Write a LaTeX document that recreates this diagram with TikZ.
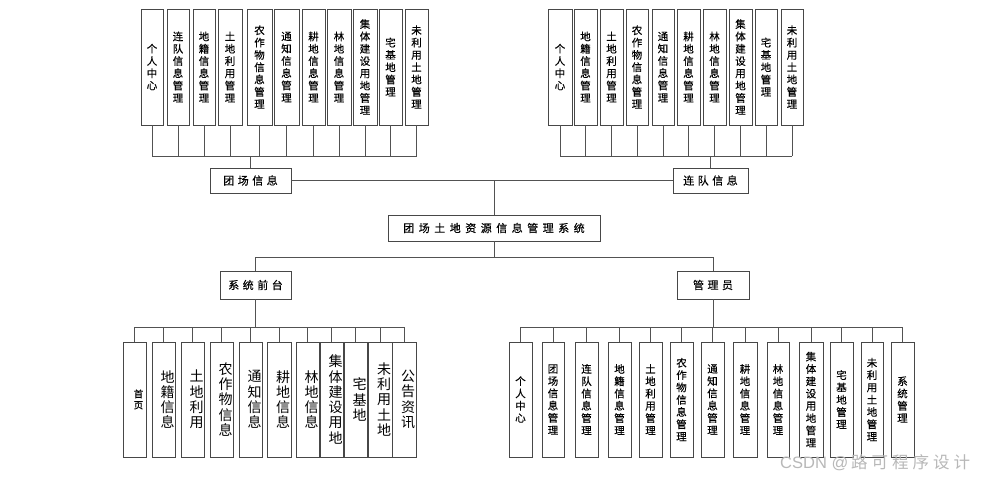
\documentclass[tikz,border=0pt]{standalone}
\usepackage{fontspec}
\setmainfont{Noto Sans CJK SC}[FakeBold=0.35]
\newfontfamily\wmcjk{Noto Sans CJK SC}
\newfontfamily\wmfont{Liberation Sans}
\usetikzlibrary{shadows}
\def\vsEnd{\vsEnd}
\def\joinchars#1#2{\jcA{#1}#2\vsEnd}
\def\jcA#1#2#3{#2\ifx\vsEnd#3\expandafter\jcGobble\else\expandafter\jcB\fi{#1}{#3}}
\def\jcB#1#2{#1\jcA{#1}#2}
\def\jcGobble#1#2{}
\newcommand\vs[1]{\joinchars{\\}{#1}}
\newcommand\vsr[1]{\hspace*{8pt}\joinchars{\\\hspace*{8pt}}{#1}}
\newcommand\hsp[2]{\joinchars{\hspace{#1}}{#2}}
\newcommand\bx[7][vbox]{\node[#1,minimum width={(#4-#3)*1pt},minimum height={(#6-#5)*1pt}] (#2) at ({(#3+#4)/2},{(#5+#6)/2}) {#7};}
\tikzset{
  box/.style={draw=black!72, line width=0.9pt, fill=white, inner sep=0pt,
    drop shadow={shadow xshift=1.2pt, shadow yshift=-1.2pt, fill=black!14, opacity=1}},
  vbox/.style={box, align=center, font=\fontsize{10.5}{12.3}\selectfont},
  bigv/.style={box, align=center, font=\wmcjk\fontsize{14}{15.3}\selectfont},
  smallv/.style={box, align=center, font=\fontsize{9.5}{11}\selectfont},
  hbox/.style={box, font=\fontsize{11}{13}\selectfont},
  conn/.style={draw=black!68, line width=0.8pt},
}
\begin{document}
\begin{tikzpicture}[x=1pt,y=-1pt]
\fill[white] (0,0) rectangle (986,482);
\useasboundingbox (0,0) rectangle (986,482);
% top-left group
\bx{t1}{141}{163}{9}{125}{\vs{个人中心}}
\bx{t2}{167}{189}{9}{125}{\vs{连队信息管理}}
\bx{t3}{193}{215}{9}{125}{\vs{地籍信息管理}}
\bx{t4}{218}{242}{9}{125}{\vs{土地利用管理}}
\bx{t5}{247}{272}{9}{125}{\vs{农作物信息管理}}
\bx{t6}{274}{299}{9}{125}{\vs{通知信息管理}}
\bx{t7}{302}{325}{9}{125}{\vs{耕地信息管理}}
\bx{t8}{327}{351}{9}{125}{\vs{林地信息管理}}
\bx{t9}{353}{377}{9}{125}{\vs{集体建设用地管理}}
\bx{t10}{379}{402}{9}{125}{\vs{宅基地管理}}
\bx{t11}{405}{428}{9}{125}{\vs{未利用土地管理}}
% top-right group
\bx{r1}{548}{572}{9}{125}{\vs{个人中心}}
\bx{r2}{574}{597}{9}{125}{\vs{地籍信息管理}}
\bx{r3}{600}{623}{9}{125}{\vs{土地利用管理}}
\bx{r4}{626}{648}{9}{125}{\vs{农作物信息管理}}
\bx{r5}{652}{674}{9}{125}{\vs{通知信息管理}}
\bx{r6}{677}{700}{9}{125}{\vs{耕地信息管理}}
\bx{r7}{703}{726}{9}{125}{\vs{林地信息管理}}
\bx{r8}{729}{752}{9}{125}{\vs{集体建设用地管理}}
\bx{r9}{755}{777}{9}{125}{\vs{宅基地管理}}
\bx{r10}{781}{803}{9}{125}{\vs{未利用土地管理}}
% middle
\bx[hbox]{tc}{210}{291}{168}{193}{\hsp{3.5pt}{团场信息}}
\bx[hbox]{rc}{673}{748}{168}{193}{\hsp{3.5pt}{连队信息}}
\bx[hbox]{sys}{388}{600}{215}{241}{\hsp{4.5pt}{团场土地资源信息管理系统}}
\bx[hbox]{qt}{220}{291}{271}{299}{\hsp{3.5pt}{系统前台}}
\bx[hbox]{gl}{677}{749}{271}{299}{\hsp{3.5pt}{管理员}}
% bottom-left group
\bx[smallv]{b1}{123}{146}{342}{457}{\vsr{首页}}
\bx[bigv]{b2}{152}{175}{342}{457}{\vsr{地籍信息}}
\bx[bigv]{b3}{181}{204}{342}{457}{\vsr{土地利用}}
\bx[bigv]{b4}{210}{233}{342}{457}{\vsr{农作物信息}}
\bx[bigv]{b5}{239}{262}{342}{457}{\vsr{通知信息}}
\bx[bigv]{b6}{267}{291}{342}{457}{\vsr{耕地信息}}
\bx[bigv]{b7}{296}{319}{342}{457}{\vsr{林地信息}}
\bx[bigv]{b8}{320}{343}{342}{457}{\vsr{集体建设用地}}
\bx[bigv]{b9}{344}{367}{342}{457}{\vsr{宅基地}}
\bx[bigv]{b10}{368}{392}{342}{457}{\vsr{未利用土地}}
\bx[bigv]{b11}{392}{416}{342}{457}{\vsr{公告资讯}}
% bottom-right group
\bx{c1}{509}{532}{342}{457}{\vs{个人中心}}
\bx{c2}{542}{564}{342}{457}{\vs{团场信息管理}}
\bx{c3}{575}{598}{342}{457}{\vs{连队信息管理}}
\bx{c4}{608}{631}{342}{457}{\vs{地籍信息管理}}
\bx{c5}{639}{662}{342}{457}{\vs{土地利用管理}}
\bx{c6}{670}{693}{342}{457}{\vs{农作物信息管理}}
\bx{c7}{701}{724}{342}{457}{\vs{通知信息管理}}
\bx{c8}{733}{757}{342}{457}{\vs{耕地信息管理}}
\bx{c9}{767}{789}{342}{457}{\vs{林地信息管理}}
\bx{c10}{799}{823}{342}{457}{\vs{集体建设用地管理}}
\bx{c11}{830}{853}{342}{457}{\vs{宅基地管理}}
\bx{c12}{861}{883}{342}{457}{\vs{未利用土地管理}}
\bx{c13}{891}{914}{342}{457}{\vs{系统管理}}
% connectors: top-left
\coordinate (tlbus) at (250.5,156);
\foreach \i in {1,...,11} {\draw[conn] (t\i.south) -- (t\i.south |- tlbus);}
\draw[conn] (t1.south |- tlbus) -- (t11.south |- tlbus);
\draw[conn] (tc.north |- tlbus) -- (tc.north);
% connectors: top-right
\coordinate (trbus) at (710,156);
\foreach \i in {1,...,10} {\draw[conn] (r\i.south) -- (r\i.south |- trbus);}
\draw[conn] (r1.south |- trbus) -- (r10.south |- trbus);
\draw[conn] (rc.north |- trbus) -- (rc.north);
% middle connectors
\draw[conn] (tc.east) -- (rc.west);
\coordinate (mtop) at (tc.east -| sys.north);
\draw[conn] (mtop) -- (sys.north);
\coordinate (mbus) at (494,257);
\draw[conn] (sys.south) -- (mbus);
\draw[conn] (qt.north |- mbus) -- (gl.north |- mbus);
\draw[conn] (qt.north |- mbus) -- (qt.north);
\draw[conn] (gl.north |- mbus) -- (gl.north);
% bottom-left connectors
\coordinate (blbus) at (255.5,327);
\draw[conn] (qt.south) -- (qt.south |- blbus);
\draw[conn] (b1.north |- blbus) -- (b11.north |- blbus);
\foreach \i in {1,...,11} {\draw[conn] (b\i.north |- blbus) -- (b\i.north);}
% bottom-right connectors
\coordinate (brbus) at (713,327);
\draw[conn] (gl.south) -- (gl.south |- brbus);
\draw[conn] (c1.north |- brbus) -- (c13.north |- brbus);
\foreach \i in {1,...,13} {\draw[conn] (c\i.north |- brbus) -- (c\i.north);}
% watermark
\node[text=black!28, inner sep=0pt, anchor=west, font=\fontsize{16.5}{18}\selectfont] (wm) at (780,463) {{\wmfont CSDN @}\,{\wmcjk\hsp{4pt}{路可程序设计}}};
\end{tikzpicture}
\end{document}
